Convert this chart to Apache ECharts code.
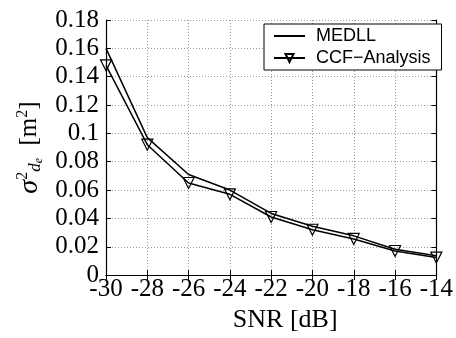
<!DOCTYPE html>
<html>
<head>
<meta charset="utf-8">
<script src="https://cdn.jsdelivr.net/npm/echarts@6/dist/echarts.min.js"></script>
<style>
  html, body { margin: 0; padding: 0; background: #fff; }
  #chart { width: 456px; height: 338px; }
</style>
</head>
<body>
<div id="chart"></div>
<script>
// SNR sweep (dB) and the two variance curves.
const snrDb = [-30, -28, -26, -24, -22, -20, -18, -16, -14];
const medll = [0.160, 0.097, 0.071, 0.060, 0.0435, 0.0345, 0.0277, 0.0183, 0.0137];
const ccfAnalysis = [0.148, 0.092, 0.065, 0.057, 0.041, 0.032, 0.0255, 0.017, 0.0124];

const SERIF = "Liberation Serif";
const SANS = "Liberation Sans";

const pairs = (ys) => snrDb.map((x, i) => [x, ys[i]]);

const gridLine = { show: true, lineStyle: { color: "#9a9a9a", type: [1, 2], width: 1 } };
const tickIn = { show: true, inside: true, length: 5, lineStyle: { color: "#000" } };
const blackLine = { show: true, lineStyle: { color: "#000", width: 1.2 } };

const chart = echarts.init(document.getElementById("chart"), null, { renderer: "canvas" });

chart.setOption({
  animation: false,
  backgroundColor: "#fff",
  grid: { left: 106, top: 20, width: 338, height: 266 },
  legend: {
    orient: "vertical",
    left: 264,
    top: 24,
    padding: [3, 11, 3, 9],
    itemGap: 4,
    itemWidth: 31,
    itemHeight: 10,
    backgroundColor: "#fff",
    borderColor: "#000",
    borderWidth: 1,
    borderRadius: 0,
    textStyle: { fontFamily: SANS, fontSize: 18, color: "#000", padding: [0, 0, 0, 6] },
    data: [
      { name: "MEDLL", itemStyle: { opacity: 0 } },
      { name: "CCF\u2212Analysis" },
    ],
  },
  xAxis: [
    {
      type: "value",
      min: -30,
      max: -14,
      interval: 2,
      name: "SNR [dB]",
      nameLocation: "middle",
      nameGap: 30,
      nameTextStyle: { fontFamily: SERIF, fontSize: 26, color: "#000", padding: [0, 0, 0, 28] },
      axisLine: blackLine,
      axisTick: tickIn,
      splitLine: gridLine,
      axisLabel: { fontFamily: SERIF, fontSize: 25, color: "#000", margin: 2 },
    },
    {
      type: "value",
      position: "top",
      min: -30,
      max: -14,
      interval: 2,
      axisLine: blackLine,
      axisTick: tickIn,
      axisLabel: { show: false },
      splitLine: { show: false },
    },
  ],
  yAxis: [
    {
      type: "value",
      min: 0,
      max: 0.18,
      interval: 0.02,
      name: "{g|\u03c3}{sup|2}{sub|d}{subsub|e}{s|  [m}{sup|2}{s|]}",
      nameLocation: "middle",
      nameRotate: 90,
      nameGap: 58,
      nameTextStyle: {
        color: "#000",
        rich: {
          g: { fontFamily: SERIF, fontStyle: "italic", fontSize: 28, lineHeight: 30, color: "#000" },
          s: { fontFamily: SERIF, fontSize: 25, lineHeight: 30, color: "#000" },
          sup: { fontFamily: SERIF, fontSize: 16, verticalAlign: "top", lineHeight: 30, color: "#000" },
          sub: { fontFamily: SERIF, fontStyle: "italic", fontSize: 17, verticalAlign: "bottom", lineHeight: 30, color: "#000" },
          subsub: { fontFamily: SERIF, fontStyle: "italic", fontSize: 12, verticalAlign: "bottom", lineHeight: 27, color: "#000" },
        },
      },
      axisLine: blackLine,
      axisTick: tickIn,
      splitLine: gridLine,
      axisLabel: { fontFamily: SERIF, fontSize: 25, color: "#000", margin: 7 },
    },
    {
      type: "value",
      position: "right",
      min: 0,
      max: 0.18,
      interval: 0.02,
      axisLine: blackLine,
      axisTick: tickIn,
      axisLabel: { show: false },
      splitLine: { show: false },
    },
  ],
  series: [
    {
      name: "MEDLL",
      type: "line",
      data: pairs(medll),
      symbol: "none",
      lineStyle: { color: "#000", width: 1.5 },
      itemStyle: { color: "#000" },
      z: 3,
    },
    {
      name: "CCF\u2212Analysis",
      type: "line",
      data: pairs(ccfAnalysis),
      symbol: "triangle",
      symbolRotate: 180,
      symbolSize: 11,
      lineStyle: { color: "#000", width: 1.5 },
      itemStyle: { color: "rgba(255,255,255,0)", borderColor: "#000", borderWidth: 1.2 },
      z: 4,
    },
  ],
});
</script>
</body>
</html>
